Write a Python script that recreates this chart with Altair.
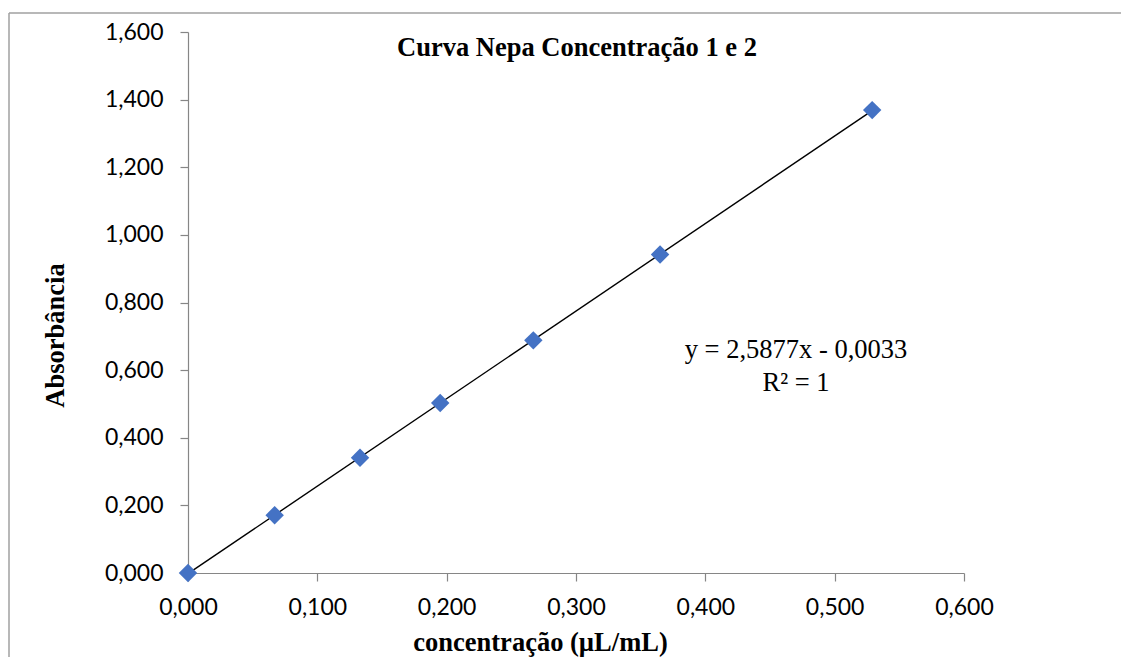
import altair as alt
import pandas as pd

conc = [0.000, 0.067, 0.133, 0.195, 0.267, 0.365, 0.529]
absorb = [0.000, 0.171, 0.341, 0.503, 0.688, 0.942, 1.369]
x_ticks = [0.0, 0.1, 0.2, 0.3, 0.4, 0.5, 0.6]
y_ticks = [0.0, 0.2, 0.4, 0.6, 0.8, 1.0, 1.2, 1.4, 1.6]
title_text = "Curva Nepa Concentração 1 e 2"
x_title = "concentração (µL/mL)"
y_title = "Absorbância"
equation = "y = 2,5877x - 0,0033\nR² = 1"

df = pd.DataFrame({"conc": conc, "abs": absorb})

W, H = 776, 541
SERIF = 26.5
fmt = "replace(format(datum.value, '.3f'), '.', ',')"

xscale = alt.Scale(domain=[0, 0.6], nice=False)
yscale = alt.Scale(domain=[0, 1.6], nice=False)

xaxis = alt.Axis(values=x_ticks, labelExpr=fmt, grid=False, title=x_title,
                 titleX=352, titleY=77, titleBaseline="alphabetic", titleAlign="center",
                 labelPadding=15, labelFlush=False)
yaxis = alt.Axis(values=y_ticks, labelExpr=fmt, grid=False, title=y_title,
                 titleX=-125, titleY=303, titleBaseline="alphabetic", titleAlign="center",
                 titleAngle=270, labelPadding=17, labelFlush=False)

base = alt.Chart(df)

line = base.transform_regression("conc", "abs", extent=[0, 0.529]).mark_line(
    color="black", strokeWidth=1.4, clip=False
).encode(
    x=alt.X("conc:Q", scale=xscale, axis=xaxis),
    y=alt.Y("abs:Q", scale=yscale, axis=yaxis),
)

points = base.mark_point(shape="diamond", filled=True, size=340, color="#4472C4",
                         opacity=1, clip=False).encode(
    x=alt.X("conc:Q", scale=xscale),
    y=alt.Y("abs:Q", scale=yscale),
)

eq = alt.Chart(pd.DataFrame({"t": [equation]})).mark_text(
    font="Liberation Serif", fontSize=SERIF, lineBreak="\n", lineHeight=33,
    align="center", baseline="alphabetic", color="black"
).encode(text="t:N", x=alt.value(608), y=alt.value(326))

frame_top = alt.Chart(pd.DataFrame({"a": [0]})).mark_rule(color="#a0a0a0", strokeWidth=1.5).encode(
    x=alt.value(-179), x2=alt.value(940), y=alt.value(-19)
)
frame_left = alt.Chart(pd.DataFrame({"a": [0]})).mark_rule(color="#a0a0a0", strokeWidth=1.5).encode(
    x=alt.value(-179), y=alt.value(-19), y2=alt.value(640)
)

chart = alt.layer(frame_top, frame_left, line, points, eq).properties(
    width=W, height=H,
    title=alt.TitleParams(title_text, font="Liberation Serif", fontSize=SERIF, fontWeight="bold",
                          anchor="middle", baseline="alphabetic", offset=0, dy=70, dx=1,
                          color="black"),
    autosize=alt.AutoSizeParams(type="none"),
    padding={"left": 180, "top": 24, "right": 157, "bottom": 84},
).configure_view(stroke=None).configure_axis(
    domainColor="#868686", tickColor="#868686", tickSize=8, domainWidth=1.2, tickWidth=1.2,
    labelFont="Lato", labelFontSize=23, labelColor="black",
    titleFont="Liberation Serif", titleFontSize=SERIF, titleFontWeight="bold", titleColor="black",
)

chart.save("out.html", embed_options={"renderer": "svg", "actions": False})
